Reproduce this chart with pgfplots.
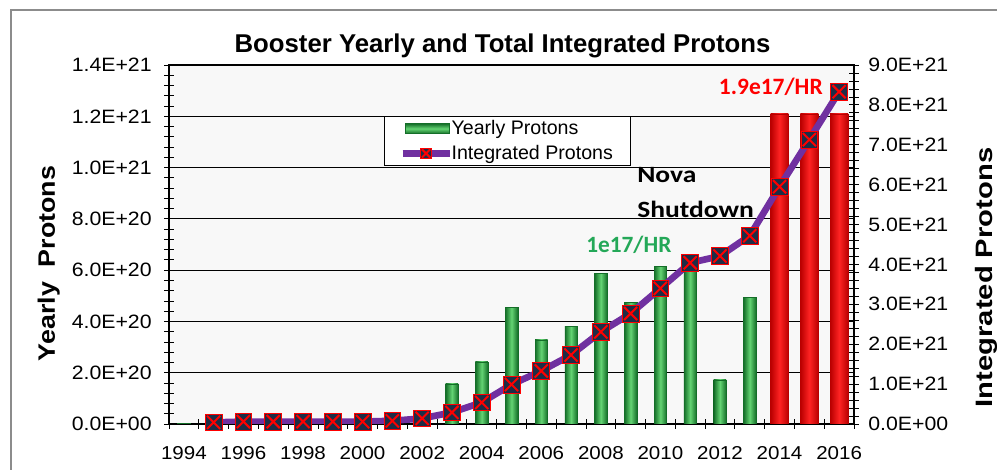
\documentclass[border=0pt]{standalone}
\usepackage{fontspec}
\setmainfont{Liberation Sans}
\newfontfamily\calib{Carlito}
\newfontfamily\calibw[FakeStretch=1.18]{Carlito}
\newfontfamily\tickf[FakeStretch=1.1]{Liberation Sans}
\newfontfamily\labL[FakeStretch=1.13]{Liberation Sans Bold}
\newfontfamily\labR[FakeStretch=1.23]{Liberation Sans Bold}
\newcommand\yr[1]{\hbox{\tickf\fontsize{14}{16}\selectfont #1}}
\usepackage{pgfplots}
\pgfplotsset{compat=1.18}

\definecolor{bgc}{RGB}{248,248,248}
\definecolor{gdark}{RGB}{20,110,40}
\definecolor{glight}{RGB}{100,212,115}
\definecolor{gmid}{RGB}{40,160,60}
\definecolor{rdark}{RGB}{185,0,0}
\definecolor{rlight}{RGB}{255,35,35}
\definecolor{lpurple}{RGB}{112,48,160}
\definecolor{mnavy}{RGB}{30,45,70}
\definecolor{anngreen}{RGB}{36,168,88}
\definecolor{framegray}{RGB}{140,140,140}

\pgfdeclareplotmark{sqx}{%
  \pgfpathrectangle{\pgfpoint{-\pgfplotmarksize}{-\pgfplotmarksize}}{\pgfpoint{2\pgfplotmarksize}{2\pgfplotmarksize}}%
  \pgfsetfillcolor{mnavy}\pgfsetstrokecolor{red}\pgfsetlinewidth{0.6pt}%
  \pgfusepath{fill,stroke}%
  \pgfsetlinewidth{1.5pt}%
  \pgfpathmoveto{\pgfpoint{-0.78\pgfplotmarksize}{-0.78\pgfplotmarksize}}%
  \pgfpathlineto{\pgfpoint{0.78\pgfplotmarksize}{0.78\pgfplotmarksize}}%
  \pgfpathmoveto{\pgfpoint{-0.78\pgfplotmarksize}{0.78\pgfplotmarksize}}%
  \pgfpathlineto{\pgfpoint{0.78\pgfplotmarksize}{-0.78\pgfplotmarksize}}%
  \pgfusepath{stroke}%
}

\pgfplotsset{
  gbar/.style={ybar, bar width=0.42, draw=gdark, line width=0.3pt,
    left color=gdark, right color=gdark, middle color=glight, forget plot},
  rbar/.style={ybar, bar width=0.6, draw=rdark, line width=0.3pt,
    left color=rdark, right color=rdark, middle color=rlight, forget plot},
}

\begin{document}
\begin{tikzpicture}
\useasboundingbox (0pt,0pt) rectangle (747.75pt,352.5pt);
\fill[white] (0pt,0pt) rectangle (747.75pt,352.5pt);
\draw[framegray, line width=1.5pt] (8.25pt,-2pt) -- (8.25pt,345pt) -- (750pt,345pt);

\begin{axis}[
  at={(126.75pt,34.5pt)}, anchor=south west,
  scale only axis, width=513.75pt, height=269.25pt,
  xmin=-0.5, xmax=22.5, ymin=0, ymax=1.4e21,
  axis background/.style={fill=bgc},
  axis line style={black, line width=0.8pt},
  xtick pos=bottom, ytick pos=left,
  tick align=center,
  major tick length=7pt, minor tick length=7pt,
  every tick/.style={black, line width=0.6pt},
  scaled y ticks=false,
  ytick={0,2e20,4e20,6e20,8e20,1e21,1.2e21,1.4e21},
  yticklabels={0.0E+00,2.0E+20,4.0E+20,6.0E+20,8.0E+20,1.0E+21,1.2E+21,1.4E+21},
  minor y tick num=4,
  ymajorgrids, major grid style={black, line width=0.6pt},
  xtick={0,2,...,22},
  xticklabels={\yr{1994},\yr{1996},\yr{1998},\yr{2000},\yr{2002},\yr{2004},\yr{2006},\yr{2008},\yr{2010},\yr{2012},\yr{2014},\yr{2016}},
  major x tick style={draw=none},
  minor xtick={-0.5,0.5,...,22.5},
  every x tick label/.append style={text=black, yshift=-9.5pt},
  yticklabel style={font=\tickf\fontsize{14.5}{16}\selectfont, text=black},
  yticklabel shift=6pt,
]
\addplot[gbar] coordinates {(0,3e18)};
\addplot[gbar] coordinates {(1,1e19)};
\addplot[gbar] coordinates {(2,8e18)};
\addplot[gbar] coordinates {(3,5e18)};
\addplot[gbar] coordinates {(4,5e18)};
\addplot[gbar] coordinates {(5,5e18)};
\addplot[gbar] coordinates {(6,5e18)};
\addplot[gbar] coordinates {(7,2e19)};
\addplot[gbar] coordinates {(8,5e19)};
\addplot[gbar] coordinates {(9,1.56e20)};
\addplot[gbar] coordinates {(10,2.42e20)};
\addplot[gbar] coordinates {(11,4.54e20)};
\addplot[gbar] coordinates {(12,3.28e20)};
\addplot[gbar] coordinates {(13,3.82e20)};
\addplot[gbar] coordinates {(14,5.88e20)};
\addplot[gbar] coordinates {(15,4.75e20)};
\addplot[gbar] coordinates {(16,6.16e20)};
\addplot[gbar] coordinates {(17,6.33e20)};
\addplot[gbar] coordinates {(18,1.72e20)};
\addplot[gbar] coordinates {(19,4.94e20)};
\addplot[rbar] coordinates {(20,1.21e21)};
\addplot[rbar] coordinates {(21,1.21e21)};
\addplot[rbar] coordinates {(22,1.21e21)};
\end{axis}

\begin{axis}[
  at={(126.75pt,34.5pt)}, anchor=south west,
  scale only axis, width=513.75pt, height=269.25pt,
  xmin=-0.5, xmax=22.5, ymin=0, ymax=9e21,
  axis x line=none, axis y line*=right,
  axis line style={black, line width=0.8pt},
  tick align=center,
  major tick length=7pt, minor tick length=7pt,
  every tick/.style={black, line width=0.6pt},
  scaled y ticks=false,
  ytick={0,1e21,2e21,3e21,4e21,5e21,6e21,7e21,8e21,9e21},
  yticklabels={0.0E+00,1.0E+21,2.0E+21,3.0E+21,4.0E+21,5.0E+21,6.0E+21,7.0E+21,8.0E+21,9.0E+21},
  minor y tick num=4,
  yticklabel style={font=\tickf\fontsize{14.5}{16}\selectfont, text=black},
  yticklabel shift=3.75pt,
  legend style={at={(rel axis cs:0.314,0.858)}, anchor=north west, draw=black,
    line width=0.8pt, fill=white, font=\fontsize{14.7}{16}\selectfont,
    inner xsep=2pt, inner ysep=1pt, row sep=2.5pt},
  legend cell align=left,
]
\addlegendimage{legend image code/.code={\path (0pt,0pt) (44.25pt,0pt);
  \path[draw=gdark, line width=0.4pt, top color=gdark, bottom color=gdark, middle color=glight] (11.25pt,-3.75pt) rectangle (44.25pt,3.75pt);}}
\addlegendentry{\kern-3pt Yearly Protons}
\addplot[lpurple, line width=5pt, mark=sqx, mark size=6.3pt,
  legend image code/.code={\path (0pt,0pt) (44.25pt,0pt);
     \draw[mark repeat=2, mark phase=2, mark size=4pt]
     plot coordinates {(9pt,0pt) (26.6pt,0pt) (44.25pt,0pt)};}]
  coordinates {(1,0.04e21) (2,0.06e21) (3,0.06e21) (4,0.06e21) (5,0.06e21) (6,0.06e21)
  (7,0.08e21) (8,0.14e21) (9,0.29e21) (10,0.54e21) (11,0.99e21) (12,1.33e21) (13,1.73e21)
  (14,2.31e21) (15,2.77e21) (16,3.40e21) (17,4.04e21) (18,4.21e21) (19,4.72e21)
  (20,5.95e21) (21,7.13e21) (22,8.33e21)};
\addlegendentry{\kern-3pt Integrated Protons\kern9pt}
\end{axis}

\node[anchor=base, inner sep=0pt, font=\bfseries\fontsize{19.3}{22}\selectfont] at (376.9pt,312.75pt) {Booster Yearly and Total Integrated Protons};
\node[anchor=base, rotate=90, inner sep=0pt, font=\labL\fontsize{17.8}{20}\selectfont] at (41.25pt,154.9pt) {Yearly\ \ Protons};
\node[anchor=base, rotate=90, inner sep=0pt, font=\labR\fontsize{17.8}{20}\selectfont] at (744pt,144.4pt) {Integrated Protons};
\node[anchor=base east, inner sep=0pt, text=red, font=\calib\bfseries\fontsize{17.6}{20}\selectfont] at (617.25pt,281.25pt) {1.9e17/HR};
\node[anchor=base west, inner sep=0pt, font=\calibw\bfseries\fontsize{17.5}{20}\selectfont] at (477.75pt,215.25pt) {Nova};
\node[anchor=base west, inner sep=0pt, font=\calibw\bfseries\fontsize{17.5}{20}\selectfont] at (477.75pt,189pt) {Shutdown};
\node[anchor=base west, inner sep=0pt, text=anngreen, font=\calib\bfseries\fontsize{17.5}{20}\selectfont] at (439.5pt,162.75pt) {1e17/HR};
\end{tikzpicture}
\end{document}
